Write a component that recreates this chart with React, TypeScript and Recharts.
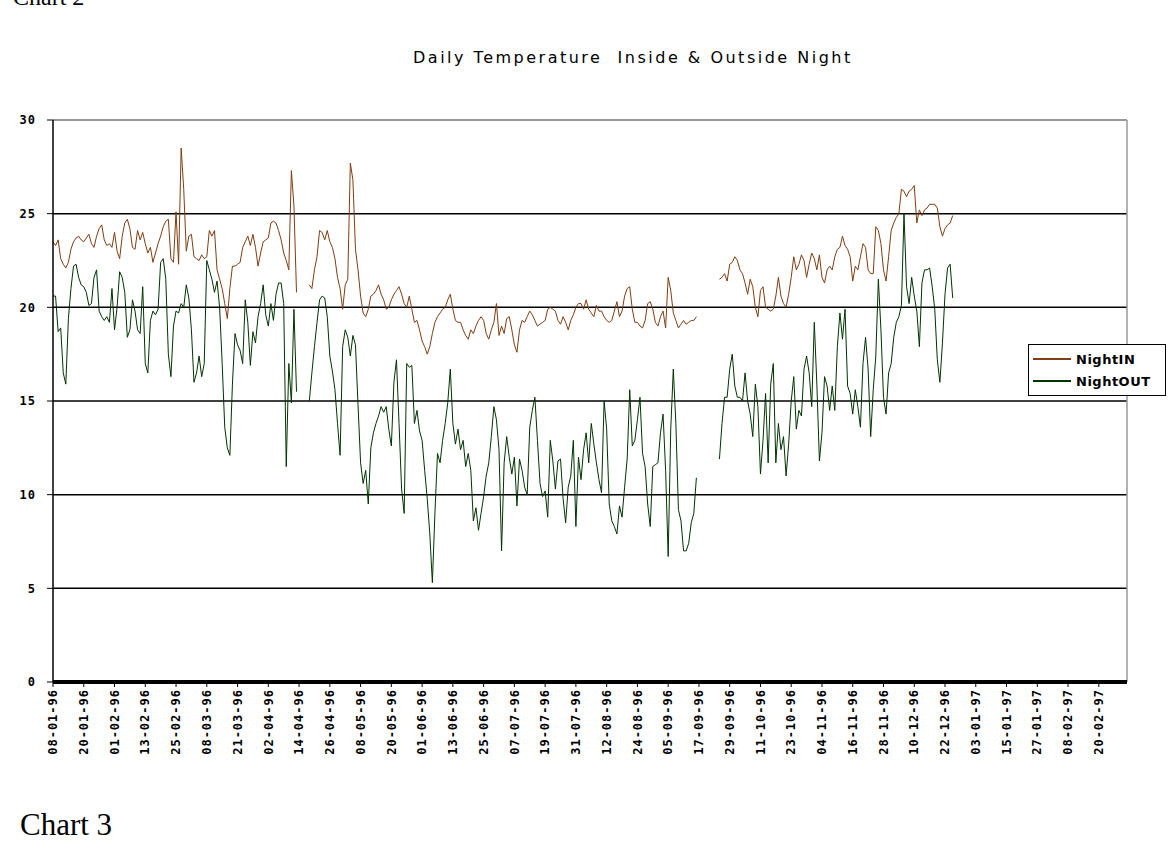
import React from "react";
import { LineChart, Line, XAxis, YAxis, CartesianGrid, ReferenceLine, Legend } from "recharts";

// one tick label every 12 days
const tickLabels = [
  "08-01-96", "20-01-96", "01-02-96", "13-02-96", "25-02-96", "08-03-96", "21-03-96",
  "02-04-96", "14-04-96", "26-04-96", "08-05-96", "20-05-96", "01-06-96", "13-06-96",
  "25-06-96", "07-07-96", "19-07-96", "31-07-96", "12-08-96", "24-08-96", "05-09-96",
  "17-09-96", "29-09-96", "11-10-96", "23-10-96", "04-11-96", "16-11-96", "28-11-96",
  "10-12-96", "22-12-96", "03-01-97", "15-01-97", "27-01-97", "08-02-97", "20-02-97",
];

const dayCount = 420;
const yTicks = [0, 5, 10, 15, 20, 25, 30];

// rows of 12 days (null = no reading)
const nightIn: (number | null)[] = [
  23.5, 23.3, 23.6, 22.6, 22.3, 22.1, 22.4, 23.1, 23.5, 23.7, 23.8, 23.6,
  23.5, 23.7, 23.9, 23.4, 23.2, 23.8, 24.2, 24.4, 23.6, 23.3, 23.4, 23.2,
  24.0, 23.0, 22.6, 23.8, 24.5, 24.7, 24.2, 23.2, 23.1, 24.1, 23.6, 24.0,
  23.4, 22.9, 23.2, 22.4, 22.9, 23.4, 23.8, 24.3, 24.6, 24.7, 22.6, 22.4,
  25.1, 22.3, 28.5, 26.3, 23.0, 23.8, 23.9, 22.7, 22.6, 22.5, 22.8, 22.6,
  22.7, 24.1, 23.8, 24.1, 22.0, 21.5, 21.0, 20.2, 19.4, 21.0, 22.2, 22.2,
  22.3, 22.4, 23.2, 23.5, 23.8, 23.3, 23.9, 23.2, 22.2, 22.9, 23.5, 23.6,
  23.7, 24.5, 24.6, 24.5, 24.1, 23.6, 22.9, 22.5, 22.0, 27.3, 25.4, 20.8,
  null, null, null, null, 21.2, 21.0, 22.0, 22.7, 24.1, 24.0, 23.6, 24.1,
  23.5, 23.2, 22.6, 21.6, 21.0, 19.9, 21.2, 21.5, 27.7, 26.8, 23.1, 22.0,
  20.6, 19.7, 19.5, 19.9, 20.6, 20.7, 20.9, 21.2, 20.7, 20.4, 19.9, 20.0,
  20.4, 20.7, 20.9, 21.1, 20.7, 20.2, 20.0, 20.6, 19.9, 19.2, 19.3, 18.8,
  18.2, 17.9, 17.5, 17.9, 18.6, 19.2, 19.5, 19.7, 19.9, 20.0, 20.4, 20.7,
  19.9, 19.3, 19.2, 19.2, 18.8, 18.5, 18.3, 18.8, 18.6, 19.0, 19.3, 19.5,
  19.3, 18.6, 18.3, 18.8, 19.2, 20.2, 18.5, 19.0, 18.6, 19.4, 19.5, 18.8,
  18.0, 17.6, 18.8, 19.3, 19.2, 19.5, 19.8, 19.6, 19.3, 19.0, 19.1, 19.2,
  19.3, 19.9, 20.0, 19.9, 19.8, 19.3, 19.1, 19.5, 19.2, 18.8, 19.3, 19.6,
  20.0, 20.2, 20.2, 19.9, 20.4, 19.9, 19.7, 19.5, 20.1, 19.8, 19.8, 19.5,
  19.3, 19.2, 19.3, 19.8, 20.3, 19.5, 19.8, 20.6, 21.0, 21.1, 19.9, 19.2,
  19.2, 19.0, 18.9, 19.3, 20.2, 20.3, 19.9, 19.2, 19.0, 19.5, 19.8, 18.9,
  21.6, 20.9, 19.7, 19.3, 18.9, 19.1, 19.3, 19.1, 19.2, 19.3, 19.3, 19.5,
  null, null, null, null, null, null, null, null, 21.5, 21.6, 21.8, 21.4,
  22.3, 22.4, 22.7, 22.5, 22.0, 21.8, 21.3, 20.7, 21.5, 21.1, 20.0, 19.5,
  20.9, 21.1, 20.0, 19.9, 19.8, 19.9, 20.6, 21.6, 20.6, 20.2, 20.0, 20.7,
  21.6, 22.7, 22.0, 22.3, 22.8, 22.5, 21.6, 22.3, 22.9, 22.6, 22.0, 22.8,
  21.6, 21.3, 22.0, 22.2, 22.0, 22.7, 23.1, 23.2, 23.8, 23.3, 23.1, 22.7,
  21.4, 22.2, 22.0, 22.7, 23.4, 23.2, 22.0, 21.8, 21.8, 24.3, 24.1, 23.4,
  22.0, 21.4, 22.7, 24.1, 24.5, 24.8, 25.0, 26.3, 26.2, 25.9, 26.2, 26.3,
  26.5, 24.5, 25.2, 24.9, 25.2, 25.3, 25.5, 25.5, 25.5, 25.3, 24.3, 23.8,
  24.2, 24.4, 24.5, 24.9,
];

const nightOut: (number | null)[] = [
  20.6, 20.6, 18.7, 18.9, 16.5, 15.9, 19.4, 21.0, 22.2, 22.3, 21.6, 21.2,
  21.1, 20.8, 20.1, 20.2, 21.6, 22.0, 19.8, 19.5, 19.3, 19.5, 19.2, 21.0,
  18.8, 20.0, 21.9, 21.6, 20.8, 18.4, 18.8, 20.4, 19.8, 18.8, 18.6, 21.1,
  17.0, 16.5, 19.3, 19.8, 19.6, 19.9, 22.4, 22.6, 21.5, 17.5, 16.3, 19.0,
  19.8, 19.7, 20.2, 20.0, 21.2, 20.5, 18.8, 16.0, 16.5, 17.4, 16.3, 17.0,
  22.5, 22.0, 21.5, 20.8, 21.4, 20.0, 17.0, 13.6, 12.5, 12.1, 15.9, 18.6,
  18.0, 17.7, 17.0, 20.4, 19.2, 16.9, 18.7, 18.1, 19.5, 20.2, 21.2, 19.6,
  19.0, 20.2, 19.3, 20.7, 21.3, 21.3, 20.2, 11.5, 17.0, 14.9, 19.9, 15.5,
  null, null, null, null, 15.0, 16.5, 17.9, 19.2, 20.4, 20.6, 20.5, 19.5,
  17.4, 16.6, 15.6, 13.8, 12.1, 17.9, 18.8, 18.4, 17.4, 18.5, 18.0, 14.8,
  11.7, 10.6, 11.3, 9.5, 12.5, 13.3, 13.8, 14.2, 14.7, 14.4, 14.7, 13.5,
  12.6, 16.0, 17.2, 13.8, 10.3, 9.0, 17.0, 16.8, 16.9, 13.8, 14.5, 13.4,
  12.9, 11.3, 9.8, 7.9, 5.3, 9.0, 12.2, 11.7, 12.9, 13.8, 14.9, 16.7,
  13.8, 12.7, 13.5, 12.4, 12.9, 11.5, 12.2, 11.3, 8.6, 9.3, 8.1, 9.0,
  9.9, 11.0, 11.7, 13.1, 14.7, 14.0, 12.4, 7.0, 11.7, 13.1, 12.0, 11.1,
  12.0, 9.4, 11.9, 11.3, 10.4, 10.0, 13.6, 14.5, 15.2, 12.9, 10.6, 9.9,
  10.2, 8.8, 12.9, 11.8, 10.3, 11.8, 11.9, 9.8, 8.5, 10.4, 11.0, 12.9,
  8.3, 12.0, 10.8, 12.4, 13.3, 11.7, 13.8, 12.7, 11.7, 10.8, 10.1, 15.0,
  13.5, 9.5, 8.6, 8.3, 7.9, 9.4, 8.8, 10.4, 11.9, 15.6, 12.6, 12.9,
  14.0, 15.2, 12.2, 11.5, 9.5, 8.3, 11.5, 11.6, 11.7, 13.3, 14.3, 11.3,
  6.7, 13.5, 16.7, 13.8, 9.2, 8.6, 7.0, 7.0, 7.4, 8.5, 9.0, 10.9,
  null, null, null, null, null, null, null, null, 11.9, 13.8, 15.2, 15.2,
  16.7, 17.5, 15.8, 15.2, 15.2, 15.0, 16.5, 15.0, 14.3, 13.1, 15.9, 14.7,
  11.1, 12.9, 15.4, 11.7, 15.9, 17.0, 11.7, 13.8, 12.4, 13.1, 11.0, 12.7,
  15.0, 16.3, 13.5, 14.5, 14.2, 16.7, 17.4, 16.5, 14.7, 19.2, 15.9, 11.8,
  13.3, 16.3, 15.8, 14.5, 15.8, 14.5, 17.9, 19.7, 18.3, 19.9, 15.8, 15.4,
  14.3, 15.6, 14.7, 13.6, 17.0, 18.4, 16.7, 13.1, 15.6, 17.4, 21.5, 18.8,
  15.2, 14.3, 16.5, 17.0, 18.4, 19.2, 19.5, 20.1, 25.0, 21.1, 20.2, 21.6,
  20.6, 19.8, 17.9, 21.3, 22.0, 22.0, 22.1, 21.1, 19.9, 17.2, 16.0, 18.1,
  20.7, 22.1, 22.3, 20.5,
];

const data = Array.from({ length: dayCount }, (_, i) => ({
  day: i,
  nightIn: nightIn[i] ?? null,
  nightOut: nightOut[i] ?? null,
}));

const tickFont = { fontFamily: "DejaVu Sans Mono", fontWeight: "bold" as const, fontSize: 12, letterSpacing: 1 };

function XTick(props: any) {
  const { x, y, payload } = props;
  const label = tickLabels[Math.round(payload.value / 12)] ?? "";
  return (
    <text x={x} y={y} dy="0.35em" textAnchor="end" transform={`rotate(-90, ${x}, ${y})`} fill="#000" style={tickFont}>
      {label}
    </text>
  );
}

function YTick(props: any) {
  const { x, y, payload } = props;
  return (
    <text x={x - 9} y={y} dy="0.35em" textAnchor="end" fill="#000" style={tickFont}>
      {payload.value}
    </text>
  );
}

function LegendBox(props: any) {
  const items = props.payload || [];
  return (
    <div
      style={{
        border: "1px solid #000",
        background: "#fff",
        boxSizing: "border-box",
        width: 138,
        height: 52,
        padding: "3px 0 0 3px",
        fontFamily: "DejaVu Sans",
        fontWeight: "bold",
        fontSize: 13,
        letterSpacing: 0.5,
      }}
    >
      {items.map((it: any) => (
        <div key={it.value} style={{ display: "flex", alignItems: "center", height: 22 }}>
          <svg width={44} height={6}>
            <line x1={1} y1={3} x2={39} y2={3} stroke={it.color} strokeWidth={2} />
          </svg>
          <span>{it.value}</span>
        </div>
      ))}
    </div>
  );
}

export default function App() {
  return (
    <div style={{ position: "absolute", left: 0, top: 0, width: 1170, height: 846, overflow: "hidden", background: "#fff" }}>
      <div style={{ position: "absolute", left: 13, top: -16, fontFamily: "Liberation Serif", fontSize: 24 }}>Chart 2</div>
      <div
        style={{
          position: "absolute",
          left: 413,
          top: 48,
          fontFamily: "DejaVu Sans",
          fontSize: 16,
          letterSpacing: 2.5,
          whiteSpace: "pre",
          color: "#000",
        }}
      >
        {"Daily Temperature  Inside & Outside Night"}
      </div>
      <LineChart width={1170} height={846} data={data} margin={{ top: 120, right: 43, bottom: 84, left: 0 }}>
        <CartesianGrid vertical={false} stroke="#000" strokeWidth={1.5} />
        <XAxis
          dataKey="day"
          type="category"
          interval={11}
          height={80}
          tick={<XTick />}
          tickSize={5}
          tickLine={{ stroke: "#000" }}
          axisLine={{ stroke: "#000", strokeWidth: 4 }}
        />
        <YAxis
          domain={[0, 30]}
          ticks={yTicks}
          width={53}
          tick={<YTick />}
          tickSize={6}
          tickLine={{ stroke: "#000" }}
          axisLine={{ stroke: "#000", strokeWidth: 1.5 }}
        />
        <ReferenceLine y={30} stroke="#999" strokeWidth={2} />
        <ReferenceLine x={dayCount - 1} stroke="#999" strokeWidth={1.5} />
        <Legend
          layout="vertical"
          align="center"
          verticalAlign="middle"
          content={<LegendBox />}
          wrapperStyle={{ left: 1028, top: 344, width: 138, height: 52 }}
        />
        <Line
          name="NightIN"
          dataKey="nightIn"
          stroke="#7f3d12"
          strokeWidth={1}
          dot={false}
          isAnimationActive={false}
        />
        <Line
          name="NightOUT"
          dataKey="nightOut"
          stroke="#003300"
          strokeWidth={1}
          dot={false}
          isAnimationActive={false}
        />
      </LineChart>
      <div style={{ position: "absolute", left: 20, top: 807, fontFamily: "Liberation Serif", fontSize: 31 }}>Chart 3</div>
    </div>
  );
}
